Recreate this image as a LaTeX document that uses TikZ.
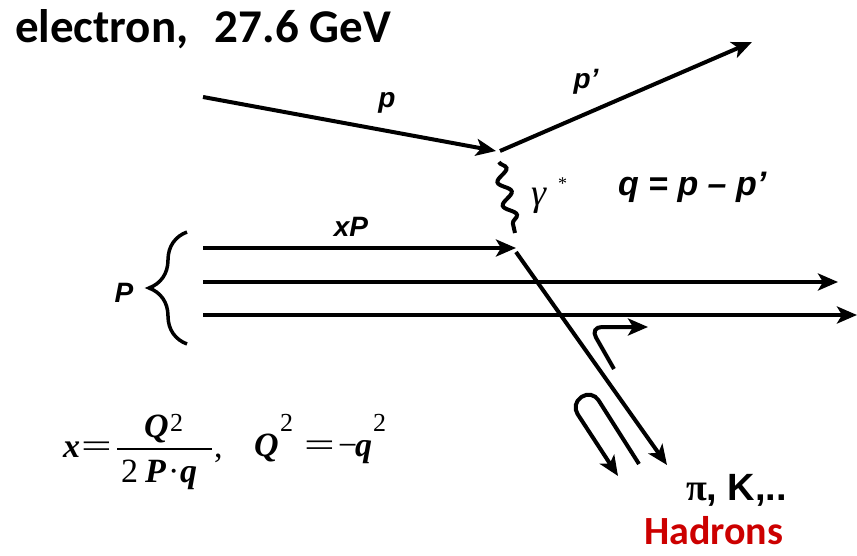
\documentclass[tikz,border=0pt]{standalone}
\usepackage{fontspec}
\setmainfont{Carlito}
\newfontfamily\arialf{Liberation Sans}
\newfontfamily\timesf{Liberation Serif}
\usetikzlibrary{arrows.meta,decorations.pathmorphing,decorations.pathreplacing}
\definecolor{hadred}{RGB}{204,0,0}
\newcommand{\wideeq}{\scalebox{1.6}[1]{=}}
\begin{document}
\begin{tikzpicture}[x=1pt,y=-1pt,line width=4pt,
  arr/.style={-{Stealth[length=20pt,width=17pt,inset=5pt]}},
  lbl/.style={font=\arialf\bfseries\itshape\fontsize{28}{32}\selectfont,inner sep=0pt},
  cal/.style={font=\bfseries\fontsize{47}{50}\selectfont,inner sep=0pt},
  frm/.style={font=\timesf\bfseries\itshape\fontsize{34}{36}\selectfont,inner sep=0pt},
  frmup/.style={font=\timesf\fontsize{34}{36}\selectfont,inner sep=0pt},
  frmsup/.style={font=\timesf\fontsize{26}{28}\selectfont,inner sep=0pt},
  photon/.style={decorate,decoration={snake,amplitude=6pt,segment length=24pt}}]
\useasboundingbox (0,0) rectangle (857,556);
% coordinates
\coordinate (ein) at (203,97);
\coordinate (etip) at (496,151);
\coordinate (eout) at (500,151);
\coordinate (eend) at (752,42);
\coordinate (gtop) at (499,162);
\coordinate (gbot) at (515,233);
\coordinate (qin) at (203,248);
\coordinate (qtip) at (516,248);
\coordinate (m1) at (203,282);
\coordinate (m2) at (838,282);
\coordinate (b1) at (203,315);
\coordinate (b2) at (857,315);
\coordinate (qs) at (516,252);
\coordinate (qe) at (667,465);
\coordinate (h1) at (614,369);
\coordinate (h2) at (590,327);
\coordinate (h3) at (648,327);
\coordinate (u1) at (639,464);
\coordinate (u2) at (592,390);
\coordinate (u3) at (571,404);
\coordinate (u4) at (618,476);
\coordinate (br1) at (187,344);
\coordinate (br2) at (187,232);
\coordinate (fb1) at (117,449);
\coordinate (fb2) at (212,449);
% lines
\draw[arr] (ein) -- (etip);
\draw[arr] (eout) -- (eend);
\draw[photon] (gtop) -- (gbot);
\draw[arr] (qin) -- (qtip);
\draw[arr] (m1) -- (m2);
\draw[arr] (b1) -- (b2);
\draw[arr] (qs) -- (qe);
\draw[arr,rounded corners=12pt] (h1) -- (h2) -- (h3);
\draw[arr,rounded corners=12pt] (u1) -- (u2) -- (u3) -- (u4);
\draw[decorate,decoration={brace,amplitude=38pt},line width=3.5pt] (br1) -- (br2);
% labels
\node[cal,anchor=base west] (title) at (13,43) {electron,\,\, 27.6 GeV};
\node[lbl,anchor=base] (lp) at (387,108) {p};
\node[lbl,anchor=base] (lpp) at (586,89) {p’};
\node[lbl,anchor=base] (lxp) at (351,237) {xP};
\node[lbl,anchor=base] (lP) at (124,302) {P};
\node[lbl,anchor=base west,font=\arialf\bfseries\itshape\fontsize{34}{36}\selectfont] (lq) at (616,196) {q = p – p’};
\node[inner sep=0pt,anchor=base west,font=\timesf\itshape\fontsize{38}{40}\selectfont] (lg) at (529,206) {γ};
\node[inner sep=0pt,anchor=base west,font=\timesf\fontsize{18}{18}\selectfont] (lstar) at (556,190) {*};
% formula
\node[frm,anchor=base west] (fx) at (61,457) {x};
\node[frmup,anchor=base west] (feq) at (79,457) {\wideeq};
\draw[line width=1.8pt] (fb1) -- (fb2);
\node[frm,anchor=base west] (fnq) at (142,437) {Q};
\node[frmsup,anchor=base west] (fn2) at (168,431) {2};
\node[frmup,anchor=base west] (fd2) at (119,482) {2};
\node[frm,anchor=base west] (fdp) at (143,482) {P};
\node[frmup,anchor=base west] (fdd) at (166,482) {·};
\node[frm,anchor=base west] (fdq) at (178,482) {q};
\node[frmup,anchor=base west] (fcomma) at (212,457) {,};
\node[frm,anchor=base west] (frq) at (252,456) {Q};
\node[frmsup,anchor=base west] (fr2) at (278,431) {2};
\node[frmup,anchor=base west] (freq) at (302,456) {\wideeq};
\node[frmup,anchor=base west] (frm) at (336,456) {−};
\node[frm,anchor=base west] (frq2) at (353,456) {q};
\node[frmsup,anchor=base west] (frq22) at (371,431) {2};
% products
\node[inner sep=0pt,anchor=base west,font=\fontsize{38}{40}\selectfont] (pik) at (684,500) {{\timesf\bfseries π}{\arialf\bfseries , K,..}};
\node[inner sep=0pt,anchor=base west,text=hadred,font=\bfseries\fontsize{40}{42}\selectfont] (had) at (642,544) {Hadrons};
\end{tikzpicture}
\end{document}
